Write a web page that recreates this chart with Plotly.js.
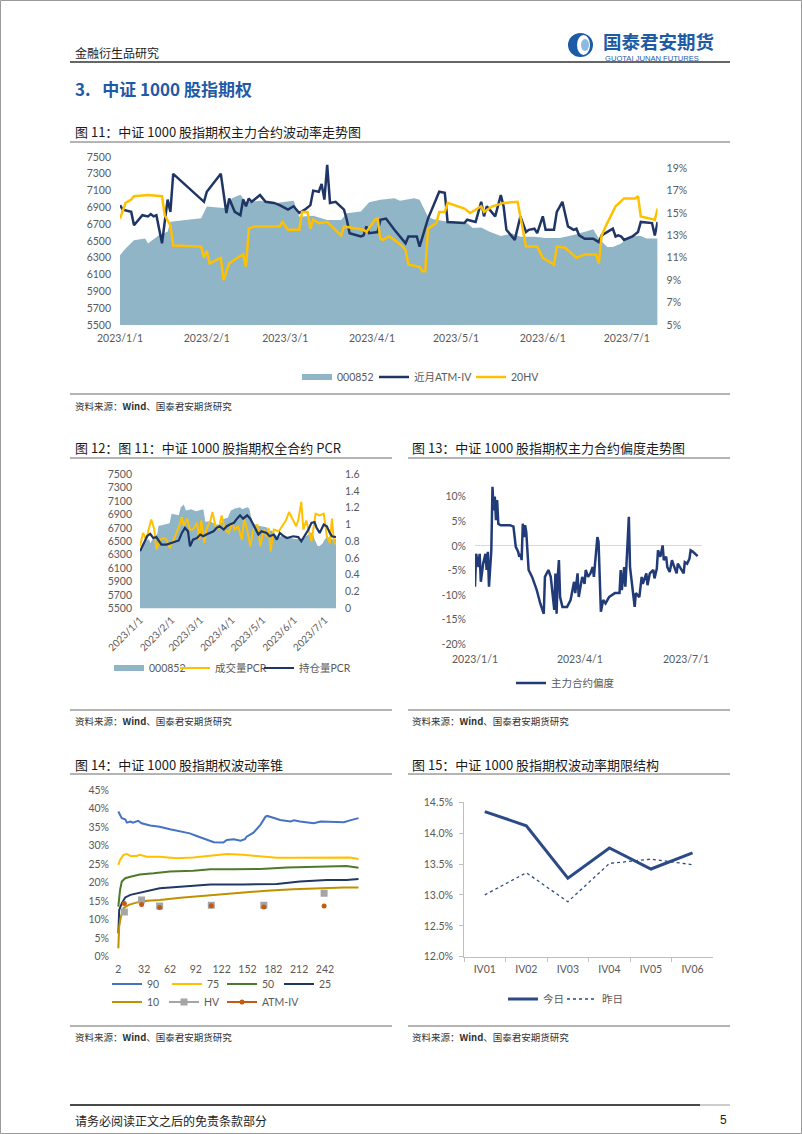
<!DOCTYPE html>
<html><head><meta charset="utf-8">
<script src="https://cdn.plot.ly/plotly-3.0.1.min.js"></script>
<style>html,body{margin:0;padding:0;background:#fff;}#page{width:802px;height:1134px;}</style>
</head><body><div id="page"></div>
<script>
// ---------- Chart 11 / 12 : CSI 1000 index (000852) ----------
const idxDates = ['2023-01-01','2023-01-03','2023-01-06','2023-01-10','2023-01-11','2023-01-15','2023-01-18','2023-01-19','2023-01-30','2023-02-01','2023-02-08','2023-02-10','2023-02-13','2023-02-15','2023-02-20','2023-02-25','2023-03-04','2023-03-06','2023-03-11','2023-03-16','2023-03-21','2023-03-23','2023-03-28','2023-03-31','2023-04-04','2023-04-09','2023-04-11','2023-04-16','2023-04-18','2023-04-21','2023-04-23','2023-04-28','2023-05-05','2023-05-07','2023-05-10','2023-05-13','2023-05-17','2023-05-21','2023-05-24','2023-05-29','2023-06-02','2023-06-07','2023-06-12','2023-06-17','2023-06-19','2023-06-21','2023-06-24','2023-06-26','2023-06-29','2023-07-01','2023-07-03','2023-07-06','2023-07-08','2023-07-12'];
const idxValues = [6330,6410,6510,6530,6470,6570,6610,6730,6770,6910,6890,7010,7050,6960,6980,6950,6980,6790,6800,6750,6750,6830,6850,6960,6990,7010,6980,7010,6990,6790,6760,6730,6710,6655,6660,6610,6560,6590,6550,6550,6535,6535,6570,6620,6640,6530,6430,6430,6470,6530,6560,6560,6530,6530];

// 近月ATM-IV (%)
const atmDates = ['2023-01-01','2023-01-02','2023-01-05','2023-01-06','2023-01-09','2023-01-11','2023-01-12','2023-01-13','2023-01-14','2023-01-16','2023-01-18','2023-01-19','2023-01-20','2023-01-31','2023-02-01','2023-02-06','2023-02-08','2023-02-09','2023-02-11','2023-02-13','2023-02-14','2023-02-15','2023-02-16','2023-02-17','2023-02-20','2023-02-22','2023-02-25','2023-02-27','2023-03-02','2023-03-04','2023-03-06','2023-03-08','2023-03-10','2023-03-11','2023-03-13','2023-03-14','2023-03-15','2023-03-16','2023-03-17','2023-03-19','2023-03-22','2023-03-23','2023-03-24','2023-03-28','2023-03-29','2023-03-30','2023-03-31','2023-04-03','2023-04-04','2023-04-06','2023-04-09','2023-04-11','2023-04-13','2023-04-14','2023-04-17','2023-04-18','2023-04-21','2023-04-23','2023-04-25','2023-04-27','2023-04-28','2023-05-04','2023-05-05','2023-05-08','2023-05-10','2023-05-11','2023-05-12','2023-05-13','2023-05-15','2023-05-17','2023-05-18','2023-05-19','2023-05-22','2023-05-24','2023-05-26','2023-05-27','2023-05-29','2023-05-30','2023-06-01','2023-06-02','2023-06-05','2023-06-06','2023-06-08','2023-06-10','2023-06-12','2023-06-13','2023-06-14','2023-06-16','2023-06-19','2023-06-21','2023-06-22','2023-06-26','2023-06-27','2023-06-28','2023-06-29','2023-06-30','2023-07-03','2023-07-05','2023-07-06','2023-07-10','2023-07-11','2023-07-12'];
const atmValues = [15.7,15.3,15.1,13.9,14.8,14.7,14.9,14.7,14.8,12.3,16.2,15.1,18.5,16.0,16.9,18.5,15.0,16.3,15.1,14.8,16.2,15.6,16.3,16.0,16.6,16.0,15.9,15.7,15.3,15.6,15.0,15.3,15.7,17.0,16.9,17.6,16.2,19.3,15.9,16.0,15.3,14.4,13.2,12.9,13.0,13.8,13.2,13.3,14.4,14.5,13.5,12.9,12.3,12.9,12.9,12.0,14.5,15.7,16.9,16.8,14.2,14.1,14.4,14.2,16.0,14.7,15.6,15.3,14.7,16.6,15.6,13.5,12.6,14.7,13.3,13.5,13.6,13.2,14.7,13.5,13.5,15.1,16.0,13.8,13.5,13.6,13.0,12.7,12.7,12.4,13.0,13.6,12.9,13.0,12.9,12.6,12.9,13.3,14.2,14.1,13.0,14.2];

// 20HV (%)
const hvDates = ['2023-01-01','2023-01-03','2023-01-05','2023-01-06','2023-01-11','2023-01-16','2023-01-17','2023-01-19','2023-01-20','2023-01-30','2023-01-31','2023-02-01','2023-02-02','2023-02-06','2023-02-07','2023-02-09','2023-02-12','2023-02-14','2023-02-15','2023-02-16','2023-02-18','2023-02-27','2023-02-28','2023-03-02','2023-03-06','2023-03-07','2023-03-09','2023-03-10','2023-03-11','2023-03-13','2023-03-16','2023-03-19','2023-03-21','2023-03-22','2023-03-28','2023-03-29','2023-03-30','2023-04-02','2023-04-03','2023-04-04','2023-04-05','2023-04-07','2023-04-09','2023-04-12','2023-04-13','2023-04-14','2023-04-18','2023-04-19','2023-04-20','2023-04-21','2023-04-24','2023-04-25','2023-04-27','2023-04-28','2023-05-04','2023-05-06','2023-05-10','2023-05-11','2023-05-14','2023-05-18','2023-05-23','2023-05-26','2023-05-30','2023-06-01','2023-06-05','2023-06-06','2023-06-09','2023-06-13','2023-06-16','2023-06-20','2023-06-21','2023-06-22','2023-06-24','2023-06-27','2023-06-30','2023-07-04','2023-07-05','2023-07-06','2023-07-11','2023-07-12'];
const hvValues = [14.5,15.9,16.2,16.5,16.6,16.5,14.8,13.9,12.1,12.0,11.0,11.6,10.5,11.0,9.0,10.5,11.0,11.3,10.2,13.6,13.8,13.8,14.2,13.5,13.5,15.1,15.1,13.6,14.4,14.1,14.2,13.5,13.0,13.8,13.6,13.5,13.3,14.4,14.5,12.7,12.6,12.9,12.6,12.0,11.7,10.4,10.2,9.8,9.8,13.6,14.1,15.1,15.1,15.9,15.4,15.0,15.6,15.1,15.6,15.9,16.0,12.0,12.0,11.0,10.4,12.0,11.9,11.0,11.3,11.3,10.5,13.0,14.1,15.6,16.3,16.3,16.5,14.7,14.4,15.4];

// ---------- Chart 12 : PCR ----------
const volPcrDates = ['2023-01-01','2023-01-04','2023-01-07','2023-01-09','2023-01-12','2023-01-15','2023-01-17','2023-01-21','2023-01-24','2023-01-27','2023-01-30','2023-02-03','2023-02-06','2023-02-09','2023-02-11','2023-02-13','2023-02-16','2023-02-19','2023-02-22','2023-02-26','2023-02-28','2023-03-02','2023-03-05','2023-03-07','2023-03-11','2023-03-13','2023-03-16','2023-03-19','2023-03-22','2023-03-25','2023-03-29','2023-04-01','2023-04-04','2023-04-07','2023-04-11','2023-04-13','2023-04-16','2023-04-19','2023-04-22','2023-04-26','2023-04-29','2023-05-02','2023-05-05','2023-05-07','2023-05-09','2023-05-12','2023-05-17','2023-05-21','2023-05-24','2023-05-27','2023-05-31','2023-06-03','2023-06-05','2023-06-08','2023-06-10','2023-06-13','2023-06-15','2023-06-18','2023-06-22','2023-06-26','2023-06-30','2023-07-03','2023-07-06','2023-07-08','2023-07-10','2023-07-12'];
const volPcr = [0.74,0.90,0.82,0.92,1.06,0.94,0.70,0.82,0.84,0.82,0.72,0.82,0.90,1.00,1.09,0.98,1.07,0.94,0.94,1.02,0.82,1.05,0.78,0.94,1.05,1.15,0.98,0.94,1.11,0.94,0.90,1.02,0.94,0.98,0.82,1.07,0.94,0.74,0.94,1.00,0.74,0.94,0.86,0.96,0.68,0.94,0.92,1.00,1.05,1.15,1.05,0.98,1.05,1.27,0.94,1.05,0.94,0.80,1.13,1.11,1.13,0.86,0.78,1.07,0.80,0.76];
const oiPcrDates = ['2023-01-01','2023-01-06','2023-01-08','2023-01-11','2023-01-14','2023-01-17','2023-01-20','2023-01-22','2023-01-27','2023-02-01','2023-02-04','2023-02-08','2023-02-11','2023-02-14','2023-02-17','2023-02-19','2023-02-22','2023-02-26','2023-03-01','2023-03-04','2023-03-07','2023-03-11','2023-03-14','2023-03-17','2023-03-20','2023-03-24','2023-03-27','2023-03-30','2023-04-03','2023-04-06','2023-04-09','2023-04-12','2023-04-16','2023-04-19','2023-04-21','2023-04-24','2023-04-27','2023-04-30','2023-05-05','2023-05-08','2023-05-12','2023-05-15','2023-05-18','2023-05-22','2023-05-25','2023-05-31','2023-06-05','2023-06-08','2023-06-12','2023-06-15','2023-06-18','2023-06-21','2023-06-23','2023-06-26','2023-06-30','2023-07-03','2023-07-06','2023-07-08','2023-07-12'];
const oiPcr = [0.68,0.82,0.86,0.89,0.84,0.85,0.80,0.76,0.76,0.78,0.80,0.81,0.90,0.96,0.92,0.74,0.82,0.84,0.88,0.86,0.88,0.90,0.92,0.96,0.98,0.94,0.98,1.00,1.02,1.07,1.11,1.07,1.11,1.07,1.02,0.94,0.88,0.92,0.90,0.86,0.88,0.82,0.90,0.86,0.84,0.86,0.85,0.80,0.88,0.94,1.02,1.03,0.96,0.90,1.00,0.98,0.90,0.86,0.85];

// ---------- Chart 13 : skew (%) ----------
const skewDates = ['2023-01-01','2023-01-02','2023-01-04','2023-01-05','2023-01-06','2023-01-08','2023-01-10','2023-01-11','2023-01-12','2023-01-13','2023-01-15','2023-01-16','2023-01-17','2023-01-18','2023-01-19','2023-01-20','2023-01-21','2023-01-23','2023-01-31','2023-02-03','2023-02-05','2023-02-07','2023-02-08','2023-02-09','2023-02-10','2023-02-11','2023-02-12','2023-02-13','2023-02-14','2023-02-16','2023-02-19','2023-02-23','2023-02-26','2023-03-01','2023-03-02','2023-03-05','2023-03-07','2023-03-08','2023-03-10','2023-03-11','2023-03-12','2023-03-13','2023-03-14','2023-03-15','2023-03-17','2023-03-21','2023-03-24','2023-03-27','2023-03-28','2023-03-30','2023-03-31','2023-04-03','2023-04-05','2023-04-06','2023-04-08','2023-04-10','2023-04-12','2023-04-13','2023-04-16','2023-04-17','2023-04-18','2023-04-19','2023-04-21','2023-04-23','2023-04-26','2023-05-01','2023-05-05','2023-05-06','2023-05-07','2023-05-09','2023-05-10','2023-05-11','2023-05-13','2023-05-14','2023-05-18','2023-05-19','2023-05-22','2023-05-24','2023-05-25','2023-05-28','2023-05-29','2023-05-31','2023-06-03','2023-06-04','2023-06-06','2023-06-07','2023-06-09','2023-06-11','2023-06-12','2023-06-14','2023-06-15','2023-06-17','2023-06-19','2023-06-21','2023-06-23','2023-06-24','2023-06-27','2023-06-29','2023-06-30','2023-07-02','2023-07-04','2023-07-05','2023-07-07','2023-07-09','2023-07-11'];
const skewValues = [-8.3,-1.6,-4.3,-1.6,-7.3,-3.6,-1.6,-4.9,-1.2,-8.3,-0.9,12.0,7.2,10.0,5.2,9.3,4.5,4.2,4.2,3.9,-0.2,-1.2,-2.2,-1.6,-2.9,4.5,1.8,4.2,2.8,-4.9,-6.3,-9.0,-11.7,-13.8,-6.3,-4.9,-6.3,-9.0,-13.0,-5.6,-13.8,-6.3,-2.9,-10.4,-12.4,-12.4,-11.0,-7.3,-9.6,-5.6,-10.4,-6.3,-7.7,-4.9,-6.3,-5.6,-4.3,-6.3,1.8,0.8,-7.7,-13.4,-11.0,-11.7,-10.4,-9.6,-9.6,-4.9,-9.0,-4.3,-8.3,-3.9,5.9,-4.3,-12.4,-9.6,-10.4,-6.3,-7.7,-5.6,-8.0,-5.6,-4.9,-6.6,-4.6,-0.9,-2.2,0.1,-2.9,-2.2,-4.3,-5.3,-2.9,-4.3,-5.6,-3.6,-4.9,-5.6,-3.3,-3.6,-2.6,-0.9,-1.2,-1.6,-2.1];

// ---------- Chart 14 : volatility cone (%) ----------
const cone90X = [2,4,6,10,12,16,19,25,29,39,50,62,74,85,93,105,113,124,128,136,144,149,151,159,167,173,175,182,190,202,206,213,229,237,252,264,271,281];
const cone90 = [39.2,38.3,37.4,37.1,36.2,36.5,36.2,36.7,36.0,35.4,35.1,34.4,33.8,33.3,32.6,31.5,30.9,30.8,31.5,31.7,31.3,31.7,32.4,33.5,35.6,37.8,38.0,37.5,36.9,36.5,36.8,36.5,36.0,36.5,36.5,36.3,36.8,37.4];
const cone75X = [2,4,8,12,16,23,27,35,50,70,89,109,128,147,167,186,205,244,271,281];
const cone75 = [24.8,26.1,27.5,27.7,27.2,27.2,27.5,27.0,27.0,26.6,26.8,27.2,27.7,27.5,27.0,26.7,26.7,26.7,26.8,26.4];
const cone50X = [2,4,6,10,16,27,43,62,89,109,136,167,198,221,252,267,281];
const cone50 = [13.5,18.0,20.3,21.2,21.6,22.2,22.5,23.0,23.2,23.6,23.6,23.7,24.1,24.3,24.5,24.5,24.0];
const cone25X = [2,3,6,10,16,27,39,50,62,81,109,147,186,213,244,267,281];
const cone25 = [6.3,12.6,14.4,16.0,16.7,17.3,17.8,18.5,18.7,19.1,19.5,19.5,19.6,20.3,20.7,20.7,21.0];
const cone10X = [2,3,5,8,14,23,35,50,74,109,147,174,205,237,264,281];
const cone10 = [2.3,8.1,10.8,13.1,14.0,14.6,15.1,15.3,15.9,16.6,17.3,17.8,18.2,18.5,18.7,18.7];
const termDays = [9,29,50,110,171,241];
const coneHV = [12.1,15.3,13.7,13.9,13.9,17.1];
const coneATM = [14.35,14.12,13.27,13.76,13.42,13.68];
const coneTicks = [2,32,62,92,122,152,182,212,242];

// ---------- Chart 15 : term structure (%) ----------
const terms = ['IV01','IV02','IV03','IV04','IV05','IV06'];
const today = [14.35,14.12,13.27,13.76,13.42,13.68];
const yesterday = [13.0,13.36,12.89,13.51,13.58,13.49];

// tick labels
const monthTicks = ['2023-01-01','2023-02-01','2023-03-01','2023-04-01','2023-05-01','2023-06-01','2023-07-01'];
const monthLabels = ['2023/1/1','2023/2/1','2023/3/1','2023/4/1','2023/5/1','2023/6/1','2023/7/1'];
const qTicks = ['2023-01-01','2023-04-01','2023-07-01'];
const qLabels = ['2023/1/1','2023/4/1','2023/7/1'];
const ivTickVals = [5,7,9,11,13,15,17,19];
const ivTickText = ['5%','7%','9%','11%','13%','15%','17%','19%'];
const skewTickVals = [-20,-15,-10,-5,0,5,10];
const skewTickText = ['-20%','-15%','-10%','-5%','0%','5%','10%'];

// ---------- layout helpers ----------
const W = 802, H = 1134;
const fx = p => p / W;
const fy = p => 1 - p / H;
const FC = '"Noto Sans CJK SC", sans-serif';
const FN = 'Lato, "Noto Sans CJK SC", sans-serif';
const NAVY = '#1f3566', GOLD = '#ffc000', AREA = '#8fb5c6', TICK = '#595959';
const tf = {family: FN, size: 10.5, color: TICK};

const traces = [];
// chart 11
traces.push({x: idxDates, y: idxValues, name: '000852', type: 'scatter', mode: 'none', fill: 'tozeroy', fillcolor: AREA, xaxis: 'x', yaxis: 'y', legend: 'legend'});
traces.push({x: atmDates, y: atmValues, name: '近月ATM-IV', type: 'scatter', mode: 'lines', line: {color: NAVY, width: 2.5}, xaxis: 'x', yaxis: 'y2', legend: 'legend2'});
traces.push({x: hvDates, y: hvValues, name: '20HV', type: 'scatter', mode: 'lines', line: {color: GOLD, width: 2.5}, xaxis: 'x', yaxis: 'y2', legend: 'legend3'});
// chart 12
traces.push({x: idxDates, y: idxValues, name: '000852', type: 'scatter', mode: 'none', fill: 'tozeroy', fillcolor: AREA, xaxis: 'x2', yaxis: 'y3', legend: 'legend4'});
traces.push({x: volPcrDates, y: volPcr, name: '成交量PCR', type: 'scatter', mode: 'lines', line: {color: GOLD, width: 2}, xaxis: 'x2', yaxis: 'y4', legend: 'legend5'});
traces.push({x: oiPcrDates, y: oiPcr, name: '持仓量PCR', type: 'scatter', mode: 'lines', line: {color: NAVY, width: 2.2}, xaxis: 'x2', yaxis: 'y4', legend: 'legend6'});
// chart 13
traces.push({x: skewDates, y: skewValues, name: '主力合约偏度', type: 'scatter', mode: 'lines', line: {color: '#213a78', width: 2.5}, xaxis: 'x3', yaxis: 'y5', legend: 'legend7'});
// chart 14
const coneSpec = [['90', cone90X, cone90, '#4472c4', 'legend8'], ['75', cone75X, cone75, '#ffc000', 'legend9'], ['50', cone50X, cone50, '#4e7a2c', 'legend10'], ['25', cone25X, cone25, '#203864', 'legend11'], ['10', cone10X, cone10, '#bf9000', 'legend12']];
coneSpec.forEach(s => traces.push({x: s[1], y: s[2], name: s[0], type: 'scatter', mode: 'lines', line: {color: s[3], width: 2}, xaxis: 'x4', yaxis: 'y6', legend: s[4]}));
// separate points by gaps so only markers show, while the legend keeps a line sample
const gapX = [], gapHV = [], gapATM = [];
termDays.forEach((d, i) => { gapX.push(d, null); gapHV.push(coneHV[i], null); gapATM.push(coneATM[i], null); });
traces.push({x: gapX, y: gapHV, name: 'HV', type: 'scatter', mode: 'lines+markers', connectgaps: false, line: {color: '#a5a5a5', width: 2}, marker: {symbol: 'square', size: 7, color: '#a5a5a5'}, xaxis: 'x4', yaxis: 'y6', legend: 'legend13'});
traces.push({x: gapX, y: gapATM, name: 'ATM-IV', type: 'scatter', mode: 'lines+markers', connectgaps: false, line: {color: '#c55a11', width: 2}, marker: {symbol: 'circle', size: 5, color: '#c55a11'}, xaxis: 'x4', yaxis: 'y6', legend: 'legend14'});
// chart 15
traces.push({x: terms, y: today, name: '今日', type: 'scatter', mode: 'lines', line: {color: '#2b4a86', width: 3}, xaxis: 'x5', yaxis: 'y7', legend: 'legend15'});
traces.push({x: terms, y: yesterday, name: '昨日', type: 'scatter', mode: 'lines', line: {color: '#2b4a86', width: 1.3, dash: 'dot'}, xaxis: 'x5', yaxis: 'y7', legend: 'legend16'});

const baseAx = {showgrid: false, zeroline: false, showline: false, ticks: '', tickfont: tf, fixedrange: true};
const layout = {
  width: W, height: H, margin: {l: 0, r: 0, t: 0, b: 0},
  paper_bgcolor: '#ffffff', plot_bgcolor: 'rgba(0,0,0,0)', showlegend: true,
  font: {family: FN, color: TICK},
  // chart 11
  xaxis: Object.assign({}, baseAx, {domain: [fx(120), fx(657.6)], anchor: 'y', type: 'date', range: ['2023-01-01', '2023-07-12'], tickvals: monthTicks, ticktext: monthLabels, ticklabelstandoff: 5}),
  yaxis: Object.assign({}, baseAx, {domain: [fy(325), fy(157)], anchor: 'x', range: [5500, 7500], tick0: 5500, dtick: 200, ticklabelstandoff: 8}),
  yaxis2: Object.assign({}, baseAx, {overlaying: 'y', side: 'right', anchor: 'x', range: [5, 20], tickvals: ivTickVals, ticktext: ivTickText, ticklabelstandoff: 8}),
  // chart 12
  xaxis2: Object.assign({}, baseAx, {domain: [fx(140), fx(336)], anchor: 'y3', type: 'date', range: ['2023-01-01', '2023-07-12'], tickvals: monthTicks, ticktext: monthLabels, tickangle: -45, ticklabelstandoff: 3, tickfont: {family: FN, size: 10, color: TICK}}),
  yaxis3: Object.assign({}, baseAx, {domain: [fy(608.3), fy(474.3)], anchor: 'x2', range: [5500, 7500], tick0: 5500, dtick: 200, ticklabelstandoff: 7}),
  yaxis4: Object.assign({}, baseAx, {overlaying: 'y3', side: 'right', anchor: 'x2', range: [0, 1.6], dtick: 0.2, ticklabelstandoff: 8}),
  // chart 13
  xaxis3: Object.assign({}, baseAx, {domain: [fx(475), fx(701.7)], anchor: 'y5', type: 'date', range: ['2023-01-01', '2023-07-14 12:00'], tickvals: qTicks, ticktext: qLabels, ticklabelstandoff: 7}),
  yaxis5: Object.assign({}, baseAx, {domain: [fy(644.3), fy(481.9)], anchor: 'x3', range: [-20, 13], tickvals: skewTickVals, ticktext: skewTickText, zeroline: true, zerolinecolor: '#d9d9d9', zerolinewidth: 1, ticklabelstandoff: 8}),
  // chart 14
  xaxis4: Object.assign({}, baseAx, {domain: [fx(116), fx(360)], anchor: 'y6', range: [-0.7, 282.7], tickvals: coneTicks, ticklabelstandoff: 5}),
  yaxis6: Object.assign({}, baseAx, {domain: [fy(956.7), fy(790)], anchor: 'x4', range: [0, 45], dtick: 5, ticksuffix: '%', ticklabelstandoff: 6}),
  // chart 15
  xaxis5: Object.assign({}, baseAx, {domain: [fx(464), fx(713.3)], anchor: 'y7', type: 'category', range: [-0.5, 5.5], showline: true, linecolor: '#bfbfbf', linewidth: 1, ticks: 'outside', ticklen: 4, tickcolor: '#bfbfbf', tickson: 'boundaries', ticklabelstandoff: 3}),
  yaxis7: Object.assign({}, baseAx, {domain: [fy(956.7), fy(802.3)], anchor: 'x5', range: [12, 14.5], dtick: 0.5, tickformat: '.1f', ticksuffix: '%', showline: true, linecolor: '#bfbfbf', linewidth: 1, ticks: 'outside', ticklen: 4, tickcolor: '#bfbfbf', ticklabelstandoff: 4}),
  annotations: [], shapes: []
};

// legends: one per series, placed at the reference's legend entries (text start x, centre y)
const legendSpots = {legend: [337, 377], legend2: [414, 377], legend3: [511, 377], legend4: [149, 668], legend5: [215, 668], legend6: [299, 668], legend7: [551, 683], legend8: [147, 984], legend9: [207, 984], legend10: [262, 984], legend11: [319, 984], legend12: [147, 1002], legend13: [204, 1002], legend14: [262, 1002], legend15: [543, 999], legend16: [602, 999]};
Object.keys(legendSpots).forEach(k => {
  const p = legendSpots[k];
  layout[k] = {x: fx(p[0] - 40), y: fy(p[1]), xanchor: 'left', yanchor: 'middle', orientation: 'h', bgcolor: 'rgba(0,0,0,0)', borderwidth: 0, font: {family: FN, size: 10.5, color: TICK}, itemclick: false, itemdoubleclick: false};
});

function ann(text, x, y, size, color, opts) {
  layout.annotations.push(Object.assign({text: text, x: fx(x), y: fy(y), xref: 'paper', yref: 'paper', xanchor: 'left', yanchor: 'middle', showarrow: false, font: {family: FC, size: size, color: color}}, opts || {}));
}
function hline(x0, x1, y, color, width) {
  layout.shapes.push({type: 'line', xref: 'paper', yref: 'paper', x0: fx(x0), x1: fx(x1), y0: fy(y), y1: fy(y), line: {color: color, width: width}});
}

// page frame
layout.shapes.push({type: 'rect', xref: 'paper', yref: 'paper', x0: fx(0.5), x1: fx(801.5), y0: fy(0.5), y1: fy(1133.5), line: {color: '#9a9a9a', width: 1}});
// header
ann('金融衍生品研究', 73, 52, 12, '#222');
layout.shapes.push({type: 'circle', xref: 'paper', yref: 'paper', x0: fx(568), x1: fx(593), y0: fy(33), y1: fy(57), fillcolor: '#1d5ba6', line: {width: 0}});
layout.shapes.push({type: 'circle', xref: 'paper', yref: 'paper', x0: fx(577), x1: fx(590), y0: fy(35), y1: fy(55), fillcolor: '#ffffff', line: {width: 0}});
layout.shapes.push({type: 'circle', xref: 'paper', yref: 'paper', x0: fx(581), x1: fx(589), y0: fy(39), y1: fy(51), fillcolor: '#8fb8e0', line: {width: 0}});
ann('<b>国泰君安期货</b>', 601, 41, 18.5, '#1d5ba6');
ann('GUOTAI JUNAN FUTURES', 603, 58.5, 7.6, '#1d5ba6', {font: {family: 'Liberation Sans, sans-serif', size: 7.6, color: '#1d5ba6'}});
hline(70, 730, 62, '#333333', 1.5);
ann('<b>3.\u00a0\u00a0\u00a0中证 1000 股指期权</b>', 73, 88, 17, '#1f5aa6');

// chart 11 frame
ann('图 11：中证 1000 股指期权主力合约波动率走势图', 73, 131, 13, '#1a1a1a');
hline(70, 730, 142, '#6b6b6b', 1);
hline(70, 730, 394, '#6b6b6b', 1);
ann('资料来源：<b>Wind</b>、国泰君安期货研究', 73, 406, 9.5, '#333');
// chart 12 / 13
ann('图 12：图 11：中证 1000 股指期权全合约 PCR', 73, 447, 13, '#1a1a1a');
ann('图 13：中证 1000 股指期权主力合约偏度走势图', 410, 447, 13, '#1a1a1a');
hline(70, 392, 458, '#6b6b6b', 1); hline(408, 730, 458, '#6b6b6b', 1);
hline(70, 392, 710, '#6b6b6b', 1); hline(408, 730, 710, '#6b6b6b', 1);
ann('资料来源：<b>Wind</b>、国泰君安期货研究', 73, 721, 9.5, '#333');
ann('资料来源：<b>Wind</b>、国泰君安期货研究', 410, 721, 9.5, '#333');
// chart 14 / 15
ann('图 14：中证 1000 股指期权波动率锥', 73, 764, 13, '#1a1a1a');
ann('图 15：中证 1000 股指期权波动率期限结构', 410, 764, 13, '#1a1a1a');
hline(70, 392, 774, '#6b6b6b', 1); hline(408, 730, 774, '#6b6b6b', 1);
hline(70, 392, 1026, '#6b6b6b', 1); hline(408, 730, 1026, '#6b6b6b', 1);
ann('资料来源：<b>Wind</b>、国泰君安期货研究', 73, 1037, 9.5, '#333');
ann('资料来源：<b>Wind</b>、国泰君安期货研究', 410, 1037, 9.5, '#333');
// footer
hline(70, 700, 1105, '#4a4a4a', 2);
hline(700, 730, 1105, '#9a9a9a', 1);
ann('请务必阅读正文之后的免责条款部分', 73, 1120, 12, '#222');
ann('5', 729, 1120, 12, '#222', {xanchor: 'right', font: {family: 'Liberation Sans, sans-serif', size: 12, color: '#222'}});

Plotly.newPlot('page', traces, layout, {displayModeBar: false, staticPlot: true});
</script></body></html>
